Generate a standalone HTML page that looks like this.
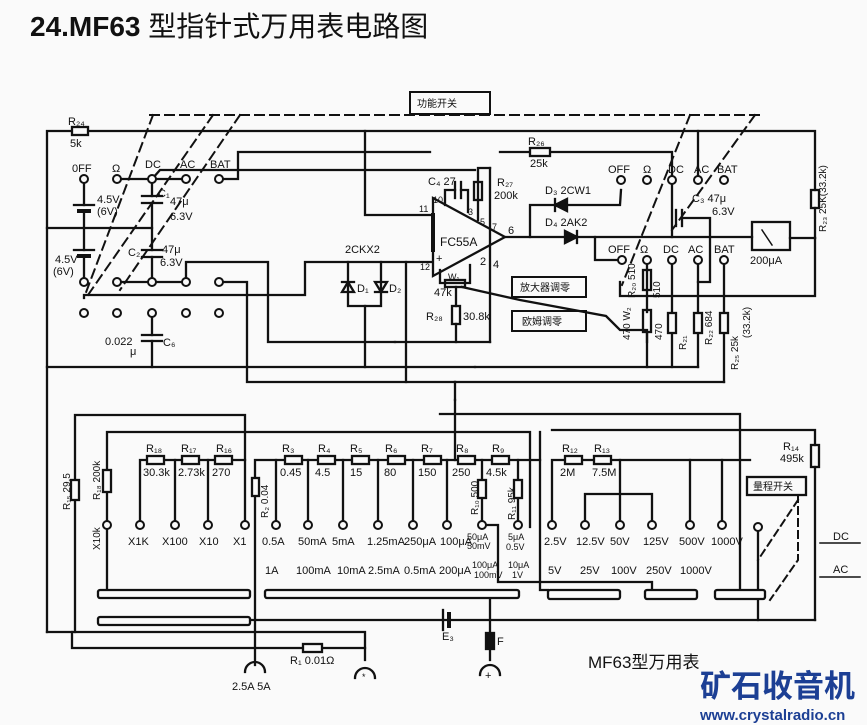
<!DOCTYPE html>
<html><head><meta charset="utf-8"><style>
html,body{margin:0;padding:0;background:#fafafa;}
svg{display:block}
text{font-family:"Liberation Sans","Noto Sans CJK SC",sans-serif;fill:#111;}
</style></head><body>
<svg width="867" height="725" viewBox="0 0 867 725" xmlns="http://www.w3.org/2000/svg">
<rect width="867" height="725" fill="#fafafa"/>
<text x="30" y="36" font-size="28" font-weight="bold">24.MF63 <tspan font-weight="normal" font-family="Noto Sans CJK SC,sans-serif">型指针式万用表电路图</tspan></text>

<g stroke="#111" stroke-width="2.3" fill="none" stroke-linecap="square">
<g stroke-dasharray="9,6" stroke-width="2">
<line x1="150" y1="115" x2="760" y2="115"/>
<line x1="153" y1="115" x2="85" y2="295"/>
<line x1="213" y1="115" x2="88" y2="295"/>
<line x1="240" y1="115" x2="120" y2="290"/>
<line x1="690" y1="115" x2="622" y2="285"/>
<line x1="755" y1="115" x2="672" y2="230"/>
</g>
<rect x="410" y="92" width="80" height="22" stroke-width="2"/>
<polyline points="47,632 47,131 815,131 815,190"/>
<rect x="72" y="127" width="16" height="8" fill="#fafafa"/>
<rect x="811" y="190" width="8" height="18"/>
<line x1="815" y1="208" x2="815" y2="238"/>
<polyline points="365,131 365,215 433,215"/>
<polyline points="219,179 238,179 238,152 430,152"/>
<polyline points="152,179 160,170 475,170"/>
<polyline points="117,179 186,179"/>
<line x1="84" y1="179" x2="84" y2="205"/><line x1="74" y1="205" x2="94" y2="205"/><line x1="79" y1="211" x2="89" y2="211" stroke-width="4"/>
<line x1="84" y1="211" x2="84" y2="250"/><line x1="74" y1="250" x2="94" y2="250"/><line x1="79" y1="256" x2="89" y2="256" stroke-width="4"/>
<line x1="84" y1="256" x2="84" y2="282"/>
<line x1="47" y1="228" x2="152" y2="228"/>
<line x1="152" y1="179" x2="152" y2="196"/><line x1="142" y1="196" x2="162" y2="196"/><line x1="142" y1="203" x2="162" y2="203"/><line x1="152" y1="203" x2="152" y2="250"/>
<line x1="142" y1="250" x2="162" y2="250"/><line x1="142" y1="257" x2="162" y2="257"/><line x1="152" y1="257" x2="152" y2="282"/>
<polyline points="117,282 186,282 186,262 268,262 268,342 395,342"/>
<polyline points="84,298 84,295 305,295 305,262 440,262"/>
<polyline points="219,282 247,282 247,382 455,382"/>
<line x1="47" y1="367" x2="475" y2="367"/>
<line x1="152" y1="313" x2="152" y2="335"/><line x1="142" y1="335" x2="162" y2="335"/><line x1="142" y1="341" x2="162" y2="341"/><line x1="152" y1="341" x2="152" y2="367"/>
<polyline points="348,262 348,306 381,306 381,262"/>
<path d="M342,292 L354,292 L348,282 Z M342,282 L354,282" />
<path d="M375,282 L387,282 L381,292 Z M375,292 L387,292"/>
<line x1="365" y1="306" x2="365" y2="367"/>
<line x1="406" y1="262" x2="406" y2="382"/>
<polygon points="433,198 505,237 433,276" fill="#fafafa"/>
<line x1="433" y1="215" x2="433" y2="250" stroke-width="4"/>
<polyline points="445,205 445,190 455,190"/><line x1="455" y1="182" x2="455" y2="198"/><line x1="461" y1="182" x2="461" y2="198"/><polyline points="461,190 468,190 468,212"/>
<polyline points="478,220 478,168 490,168"/>
<rect x="474" y="182" width="8" height="18"/>
<polyline points="490,168 490,342"/>
<polyline points="440,270 440,283 470,283 470,265"/>
<rect x="445" y="280" width="20" height="7"/>
<line x1="456" y1="287" x2="456" y2="306"/><rect x="452" y="306" width="8" height="18"/><line x1="456" y1="324" x2="456" y2="342"/>
<line x1="395" y1="342" x2="490" y2="342"/>
<polyline points="462,287 520,300 606,316 620,330 647,330 647,342"/>
<polyline points="505,237 752,237"/>
<polyline points="530,237 530,205 620,205 621,190"/>
<path d="M565,231 L565,243 L577,237 Z M577,231 L577,243" fill="#111"/>
<path d="M567,199 L567,211 L555,205 Z M555,199 L555,211" fill="#111"/>
<polyline points="500,152 650,152 672,152 672,180"/>
<rect x="530" y="148" width="20" height="8" fill="#fafafa"/>
<line x1="672" y1="180" x2="672" y2="237"/>
<line x1="698" y1="131" x2="698" y2="180"/>
<line x1="676" y1="210" x2="676" y2="226"/><line x1="682" y1="210" x2="682" y2="226"/><polyline points="682,218 710,218 710,282 698,282"/>
<polyline points="595,237 595,260 622,260"/>
<polyline points="620,282 620,296 815,296 815,238"/>
<rect x="752" y="222" width="38" height="28"/>
<line x1="762" y1="230" x2="772" y2="245" stroke-width="1.5"/>
<line x1="790" y1="238" x2="815" y2="238"/>
<line x1="647" y1="260" x2="647" y2="312"/><rect x="643" y="270" width="8" height="20"/><rect x="643" y="310" width="8" height="22"/>
<line x1="647" y1="332" x2="647" y2="367"/>
<line x1="672" y1="260" x2="672" y2="367"/><rect x="668" y="313" width="8" height="20" fill="#fafafa"/>
<line x1="698" y1="260" x2="698" y2="367"/><rect x="694" y="313" width="8" height="20" fill="#fafafa"/>
<line x1="724" y1="260" x2="724" y2="382"/><rect x="720" y="313" width="8" height="20" fill="#fafafa"/>
<line x1="475" y1="367" x2="698" y2="367"/>
<line x1="455" y1="382" x2="724" y2="382"/>
<line x1="455" y1="382" x2="455" y2="400"/>

<polyline points="47,632 365,632 365,660"/>
<polyline points="75,632 75,415 245,415 245,460"/>
<polyline points="72,632 72,648 365,648"/>
<rect x="303" y="644" width="19" height="8" fill="#fafafa"/>
<rect x="71" y="480" width="8" height="20" fill="#fafafa"/>
<polyline points="107,590 107,432 530,432 530,527"/>
<rect x="103" y="470" width="8" height="22" fill="#fafafa"/>
<polyline points="455,400 455,460"/>
<polyline points="140,525 140,460 245,460 245,525"/>
<rect x="147" y="456" width="17" height="8" fill="#fafafa"/><rect x="182" y="456" width="17" height="8" fill="#fafafa"/><rect x="215" y="456" width="17" height="8" fill="#fafafa"/>
<line x1="175" y1="460" x2="175" y2="525"/><line x1="208" y1="460" x2="208" y2="525"/>
<polyline points="255,665 255,460 540,460"/>
<rect x="252" y="478" width="7" height="18" fill="#fafafa"/>
<g fill="#fafafa">
<rect x="285" y="456" width="17" height="8"/><rect x="318" y="456" width="17" height="8"/><rect x="352" y="456" width="17" height="8"/><rect x="388" y="456" width="17" height="8"/><rect x="424" y="456" width="17" height="8"/><rect x="458" y="456" width="17" height="8"/><rect x="492" y="456" width="17" height="8"/>
</g>
<line x1="276" y1="460" x2="276" y2="525"/><line x1="308" y1="460" x2="308" y2="525"/><line x1="343" y1="460" x2="343" y2="525"/><line x1="378" y1="460" x2="378" y2="525"/><line x1="413" y1="460" x2="413" y2="525"/><line x1="447" y1="460" x2="447" y2="525"/>
<line x1="482" y1="460" x2="482" y2="525"/><rect x="478" y="480" width="8" height="18" fill="#fafafa"/>
<line x1="518" y1="460" x2="518" y2="525"/><rect x="514" y="480" width="8" height="18" fill="#fafafa"/>
<polyline points="482,525 498,525 498,582 652,582 652,590"/>
<polyline points="540,432 540,590 548,590" />
<polyline points="440,414 740,414 740,590"/>
<polyline points="552,525 552,460 750,460"/>
<polyline points="552,430 815,430 815,445"/>
<rect x="811" y="445" width="8" height="22"/>
<line x1="815" y1="467" x2="815" y2="620"/>
<rect x="565" y="456" width="17" height="8" fill="#fafafa"/><rect x="594" y="456" width="17" height="8" fill="#fafafa"/>
<polyline points="585,525 585,494 652,494 652,525"/>
<line x1="620" y1="460" x2="620" y2="525"/>
<line x1="690" y1="460" x2="690" y2="525"/><line x1="722" y1="460" x2="722" y2="525"/>
<rect x="747" y="477" width="59" height="18"/>
<line x1="758" y1="530" x2="758" y2="620"/>
<line x1="250" y1="620" x2="815" y2="620"/>
<line x1="490" y1="598" x2="490" y2="660"/>
<rect x="486" y="633" width="8" height="16" fill="#111"/>
<line x1="443" y1="610" x2="443" y2="630"/><line x1="449" y1="614" x2="449" y2="626" stroke-width="4"/>
<g fill="#fafafa">
<rect x="98" y="590" width="152" height="8" rx="2"/>
<rect x="265" y="590" width="254" height="8" rx="2"/>
<rect x="98" y="617" width="152" height="8" rx="2"/>
<rect x="548" y="590" width="72" height="9" rx="2"/>
<rect x="645" y="590" width="52" height="9" rx="2"/>
<rect x="715" y="590" width="50" height="9" rx="2"/>
</g>
<g stroke-dasharray="7,5" stroke-width="2"><polyline points="798,495 798,560 770,600"/><line x1="798" y1="500" x2="758" y2="560"/></g>
<path d="M245,672 A10,10 0 0 1 265,672"/><path d="M355,678 A10,10 0 0 1 375,678"/><path d="M480,675 A10,10 0 0 1 500,675"/>
<line x1="820" y1="543" x2="860" y2="543" stroke-width="1.5"/><line x1="820" y1="577" x2="860" y2="577" stroke-width="1.5"/>
</g>
<g stroke="#111" stroke-width="2" fill="#fafafa">
<circle cx="84" cy="179" r="4"/><circle cx="117" cy="179" r="4"/><circle cx="152" cy="179" r="4"/><circle cx="186" cy="179" r="4"/><circle cx="219" cy="179" r="4"/>
<circle cx="84" cy="282" r="4"/><circle cx="117" cy="282" r="4"/><circle cx="152" cy="282" r="4"/><circle cx="186" cy="282" r="4"/><circle cx="219" cy="282" r="4"/>
<circle cx="84" cy="313" r="4"/><circle cx="117" cy="313" r="4"/><circle cx="152" cy="313" r="4"/><circle cx="186" cy="313" r="4"/><circle cx="219" cy="313" r="4"/>
<circle cx="621" cy="180" r="4"/><circle cx="647" cy="180" r="4"/><circle cx="672" cy="180" r="4"/><circle cx="698" cy="180" r="4"/><circle cx="724" cy="180" r="4"/>
<circle cx="622" cy="260" r="4"/><circle cx="647" cy="260" r="4"/><circle cx="672" cy="260" r="4"/><circle cx="698" cy="260" r="4"/><circle cx="724" cy="260" r="4"/>
<circle cx="107" cy="525" r="4"/><circle cx="140" cy="525" r="4"/><circle cx="175" cy="525" r="4"/><circle cx="208" cy="525" r="4"/><circle cx="245" cy="525" r="4"/>
<circle cx="276" cy="525" r="4"/><circle cx="308" cy="525" r="4"/><circle cx="343" cy="525" r="4"/><circle cx="378" cy="525" r="4"/><circle cx="413" cy="525" r="4"/><circle cx="447" cy="525" r="4"/><circle cx="482" cy="525" r="4"/><circle cx="518" cy="525" r="4"/>
<circle cx="552" cy="525" r="4"/><circle cx="585" cy="525" r="4"/><circle cx="620" cy="525" r="4"/><circle cx="652" cy="525" r="4"/><circle cx="690" cy="525" r="4"/><circle cx="722" cy="525" r="4"/><circle cx="758" cy="527" r="4"/>
</g>
<g font-size="11">
<text x="417" y="107" font-size="10" font-family="Noto Sans CJK SC,sans-serif">功能开关</text>
<text x="68" y="125">R₂₄</text><text x="70" y="147">5k</text>
<text x="72" y="172">0FF</text><text x="112" y="172">Ω</text><text x="145" y="168">DC</text><text x="180" y="168">AC</text><text x="210" y="168">BAT</text>
<text x="97" y="203">4.5V</text><text x="97" y="215">(6V)</text>
<text x="158" y="197">C₁</text><text x="170" y="205">47μ</text><text x="170" y="220">6.3V</text>
<text x="55" y="263">4.5V</text><text x="53" y="275">(6V)</text>
<text x="128" y="256">C₂</text><text x="162" y="253">47μ</text><text x="160" y="266">6.3V</text>
<text x="105" y="345">0.022</text><text x="130" y="355">μ</text><text x="163" y="346">C₆</text>
<text x="345" y="253">2CKX2</text><text x="357" y="292">D₁</text><text x="389" y="292">D₂</text>
<text x="428" y="185">C₄ 27</text><text x="497" y="186">R₂₇</text><text x="494" y="199">200k</text>
<text x="528" y="145">R₂₆</text><text x="530" y="167">25k</text>
<text x="419" y="212" font-size="9">11</text><text x="433" y="203" font-size="9">10</text><text x="468" y="215" font-size="9">3</text><text x="480" y="225" font-size="9">5</text><text x="492" y="230" font-size="9">7</text><text x="508" y="234">6</text>
<text x="440" y="246" font-size="12">FC55A</text><text x="420" y="270" font-size="9">12</text><text x="436" y="262">+</text><text x="480" y="265">2</text><text x="493" y="268">4</text>
<text x="448" y="280" font-size="9">W₁</text><text x="434" y="296">47k</text>
<text x="426" y="320">R₂₈</text><text x="463" y="320">30.8k</text>
<text x="545" y="194">D₃ 2CW1</text><text x="545" y="226">D₄ 2AK2</text>
<text x="608" y="173">OFF</text><text x="643" y="173">Ω</text><text x="668" y="173">DC</text><text x="694" y="173">AC</text><text x="717" y="173">BAT</text>
<text x="692" y="202">C₃ 47μ</text><text x="712" y="215">6.3V</text>
<text x="608" y="253">OFF</text><text x="640" y="253">Ω</text><text x="663" y="253">DC</text><text x="688" y="253">AC</text><text x="714" y="253">BAT</text>
<text x="750" y="264">200μA</text>
</g>
<g stroke="#111" stroke-width="2" fill="none"><rect x="512" y="277" width="74" height="20"/><rect x="512" y="311" width="74" height="20"/></g>
<g font-size="10" font-family="Noto Sans CJK SC,sans-serif"><text x="520" y="291">放大器调零</text><text x="522" y="325">欧姆调零</text><text x="753" y="490">量程开关</text></g>
<g font-size="10">
<text transform="translate(826,232) rotate(-90)">R₂₃ 25K(33.2k)</text>
<text transform="translate(635,298) rotate(-90)">R₂₀ 510</text>
<text transform="translate(660,298) rotate(-90)">510</text>
<text transform="translate(630,340) rotate(-90)">470 W₂</text>
<text transform="translate(662,340) rotate(-90)">470</text>
<text transform="translate(686,350) rotate(-90)">R₂₁</text>
<text transform="translate(712,345) rotate(-90)">R₂₂ 684</text>
<text transform="translate(738,370) rotate(-90)">R₂₅ 25k</text>
<text transform="translate(750,338) rotate(-90)">(33.2k)</text>
<text transform="translate(70,510) rotate(-90)">R₁₅ 29.5</text>
<text transform="translate(100,500) rotate(-90)">R₁₈ 200k</text>
<text transform="translate(100,550) rotate(-90)">X10k</text>
<text transform="translate(268,518) rotate(-90)">R₂ 0.04</text>
<text transform="translate(478,515) rotate(-90)">R₁₀ 500</text>
<text transform="translate(515,520) rotate(-90)">R₁₁ 95k</text>
</g>
<g font-size="11">
<text x="146" y="452">R₁₈</text><text x="181" y="452">R₁₇</text><text x="216" y="452">R₁₆</text>
<text x="143" y="476">30.3k</text><text x="178" y="476">2.73k</text><text x="212" y="476">270</text>
<text x="282" y="452">R₃</text><text x="318" y="452">R₄</text><text x="350" y="452">R₅</text><text x="385" y="452">R₆</text><text x="421" y="452">R₇</text><text x="456" y="452">R₈</text><text x="492" y="452">R₉</text>
<text x="280" y="476">0.45</text><text x="315" y="476">4.5</text><text x="350" y="476">15</text><text x="384" y="476">80</text><text x="418" y="476">150</text><text x="452" y="476">250</text><text x="486" y="476">4.5k</text>
<text x="562" y="452">R₁₂</text><text x="594" y="452">R₁₃</text><text x="560" y="476">2M</text><text x="592" y="476">7.5M</text>
<text x="783" y="450">R₁₄</text><text x="780" y="462">495k</text>
<text x="128" y="545">X1K</text><text x="162" y="545">X100</text><text x="199" y="545">X10</text><text x="233" y="545">X1</text>
<text x="262" y="545">0.5A</text><text x="298" y="545">50mA</text><text x="332" y="545">5mA</text><text x="367" y="545">1.25mA</text><text x="404" y="545">250μA</text><text x="440" y="545">100μA</text>
<text x="467" y="540" font-size="9">50μA</text><text x="467" y="549" font-size="9">50mV</text>
<text x="508" y="540" font-size="9">5μA</text><text x="506" y="550" font-size="9">0.5V</text>
<text x="544" y="545">2.5V</text><text x="576" y="545">12.5V</text><text x="610" y="545">50V</text><text x="643" y="545">125V</text><text x="679" y="545">500V</text><text x="711" y="545">1000V</text>
<text x="265" y="574">1A</text><text x="296" y="574">100mA</text><text x="337" y="574">10mA</text><text x="368" y="574">2.5mA</text><text x="404" y="574">0.5mA</text><text x="439" y="574">200μA</text>
<text x="472" y="568" font-size="9">100μA</text><text x="474" y="578" font-size="9">100mV</text>
<text x="508" y="568" font-size="9">10μA</text><text x="512" y="578" font-size="9">1V</text>
<text x="548" y="574">5V</text><text x="580" y="574">25V</text><text x="611" y="574">100V</text><text x="646" y="574">250V</text><text x="680" y="574">1000V</text>
<text x="833" y="540">DC</text><text x="833" y="573">AC</text>
<text x="442" y="640">E₃</text><text x="497" y="645">F</text>
<text x="290" y="664">R₁ 0.01Ω</text><text x="232" y="690">2.5A 5A</text>
<text x="362" y="680" font-size="9">*</text><text x="485" y="679">+</text>
</g>
<text x="588" y="668" font-size="17" font-family="Liberation Sans,Noto Sans CJK SC,sans-serif">MF63型万用表</text>
<text x="700" y="697" font-size="31" font-weight="bold" style="fill:#1c3f94" font-family="Noto Sans CJK SC,sans-serif">矿石收音机</text>
<text x="700" y="720" font-size="15" font-weight="bold" style="fill:#1c3f94">www.crystalradio.cn</text>
</svg>
</body></html>
